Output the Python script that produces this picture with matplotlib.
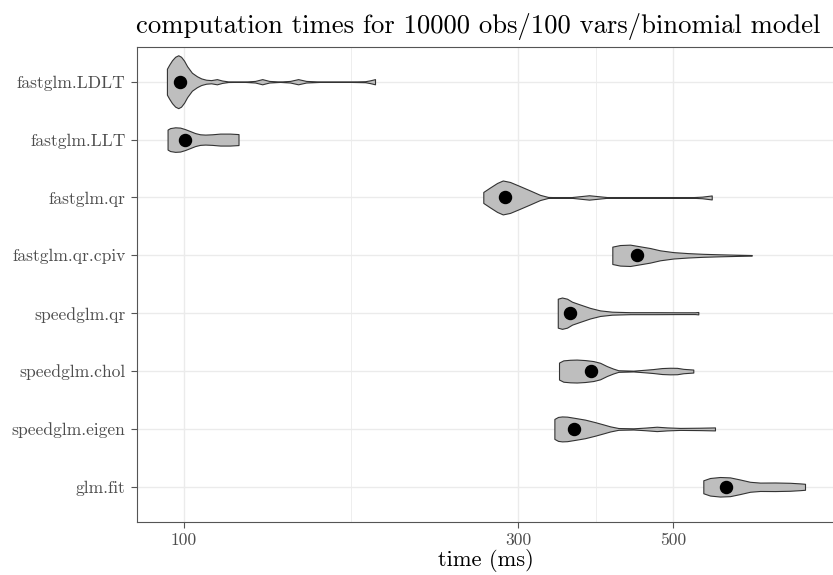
import numpy as np
import matplotlib
matplotlib.use("Agg")
from matplotlib import pyplot as plt

# methods, top to bottom
methods = ['fastglm.LDLT', 'fastglm.LLT', 'fastglm.qr', 'fastglm.qr.cpiv',
           'speedglm.qr', 'speedglm.chol', 'speedglm.eigen', 'glm.fit']

# density profiles: time (ms) and relative density
ldlt_t = [94.5, 95.2, 96.1, 97.1, 98.1, 99.0, 100.0, 101.0, 102.6, 104.3, 105.8,
          107.5, 109.3, 111.4, 113.3, 115.6, 118.3, 122.2, 126.3, 129.3, 132.3,
          137.1, 141.7, 145.5, 149.4, 156.4, 172.6, 181.4, 184.4, 187.4]
ldlt_d = [13, 17, 21.5, 25, 26.5, 25, 21, 15.5, 9, 5.5, 3.3,
          2, 1.6, 2.6, 1.2, 0.3, 0.2, 0.2, 0.8, 2.6, 0.8,
          0.2, 0.8, 2.6, 0.8, 0.2, 0.2, 0.5, 1.4, 2.6]

llt_t = [94.7, 95.5, 97.1, 98.7, 100.3, 102.0, 103.7, 105.4, 107.2, 109.6, 112.6, 116.3, 119.6]
llt_d = [10, 11.5, 12.3, 12, 10.5, 8.5, 6.5, 5.3, 5, 5.3, 6, 6, 5.5]

qr_t = [267.6, 273.6, 280.0, 285.3, 292.2, 302.0, 312.1, 322.5, 331.1, 344.5,
        358.0, 379.0, 401.7, 419.6, 528.3, 549.6, 567.4]
qr_d = [5.5, 10, 14.5, 17, 15.5, 11.3, 7, 2.6, 0.5, 0.2,
        0.4, 2.2, 0.4, 0.2, 0.2, 0.8, 2.0]

cpiv_t = [409.1, 419.6, 433.7, 448.2, 463.2, 478.6, 500.1, 524.8, 551.4, 583.1, 616.6, 647.2]
cpiv_d = [8.7, 10.3, 10.7, 9.0, 7.3, 5.0, 3.2, 2.2, 1.5, 1.0, 0.6, 0.3]

sqr_t = [341.9, 346.7, 352.5, 358.3, 367.9, 380.2, 392.9, 408.7, 433.7, 470.8, 511.2, 537.0, 542.9]
sqr_d = [14.5, 15.7, 14.5, 11.5, 8.7, 5.3, 2.8, 1.5, 1.0, 1.0, 0.9, 0.9, 1.2]

chol_t = [343.3, 348.2, 356.0, 363.9, 374.0, 384.3, 392.9, 401.7, 410.1, 417.3,
          438.4, 455.6, 468.2, 481.8, 494.6, 506.2, 516.8, 534.0]
chol_d = [8.5, 10.7, 11.3, 11.5, 11, 10, 8.3, 5, 2.5, 0.8,
          0.4, 1.3, 2, 3, 3.3, 3.2, 2.2, 1.5]

eigen_t = [338.1, 342.2, 346.7, 352.5, 361.9, 374.0, 386.5, 397.2, 406.0, 417.3,
           438.4, 455.6, 473.5, 489.8, 511.2, 545.9, 573.5]
eigen_d = [10, 12, 12.5, 12.3, 11, 9.3, 6.8, 4.5, 2.6, 0.9,
           0.6, 1.3, 2.2, 1.5, 1.0, 1.2, 1.5]

glm_t = [551.9, 564.2, 583.1, 602.6, 622.7, 643.5, 665.1, 698.7, 734.0, 758.6, 771.2]
glm_d = [6.5, 8.8, 9.8, 9.4, 7.3, 5, 4.2, 4.3, 4, 3.4, 3]

medians = [98.7, 100.3, 287.5, 443.8, 355.6, 381.1, 360.7, 594.7]

xticks = [100, 300, 500]
xminor = [173.2, 387.3]

profiles = [(ldlt_t, ldlt_d), (llt_t, llt_d), (qr_t, qr_d), (cpiv_t, cpiv_d),
            (sqr_t, sqr_d), (chol_t, chol_d), (eigen_t, eigen_d), (glm_t, glm_d)]

plt.rcParams['font.family'] = ['cmr10', 'DejaVu Serif']
plt.rcParams['axes.formatter.use_mathtext'] = True

fig = plt.figure(figsize=(8.33, 5.75), dpi=100)
# panel runs a little past the right edge of the picture, as in the original
ax = fig.add_axes([136.5 / 833, 53.5 / 575, (842 - 136.5) / 833, 474.5 / 575])
ax.patch.set_visible(False)

grid_col = '#EBEBEB'
for v in xticks:
    ax.axvline(v, color=grid_col, lw=1.0, zorder=0)
for v in xminor:
    ax.axvline(v, color=grid_col, lw=0.6, zorder=0)
for i in range(len(methods)):
    ax.axhline(i + 1, color=grid_col, lw=1.0, zorder=0)

dmax = max(max(d) for _, d in profiles)
half = 0.457
for i, (t, d) in enumerate(profiles):
    pos = i + 1
    w = np.array(d) / dmax * half
    ax.fill_between(t, pos - w, pos + w, facecolor='#BEBEBE',
                    edgecolor='#333333', lw=0.8, zorder=2)

ax.scatter(medians, np.arange(1, len(methods) + 1), s=75, color='black', zorder=3)

ax.set_xscale('log')
ax.set_xlim(85.5, 871)
ax.set_ylim(8.6, 0.4)

ax.set_xticks(xticks)
ax.set_xticklabels([str(v) for v in xticks])
ax.set_xticks([], minor=True)
ax.set_yticks(np.arange(1, len(methods) + 1))
ax.set_yticklabels(methods)

ax.tick_params(axis='both', colors='#555555', labelcolor='#4D4D4D',
               labelsize=12.6, length=4, width=0.8, pad=4)
ax.tick_params(axis='x', which='minor', length=0)

for s in ['left', 'bottom', 'top']:
    ax.spines[s].set_color('#555555')
    ax.spines[s].set_linewidth(0.8)
ax.spines['right'].set_visible(False)

fig.text(485.6 / 833, 8.6 / 575, 'time (ms)', fontsize=16.2, ha='center', va='baseline')
ax.set_title('computation times for 10000 obs/100 vars/binomial model',
             loc='left', fontsize=19.2, pad=10)

fig.savefig('out.png', dpi=100)
